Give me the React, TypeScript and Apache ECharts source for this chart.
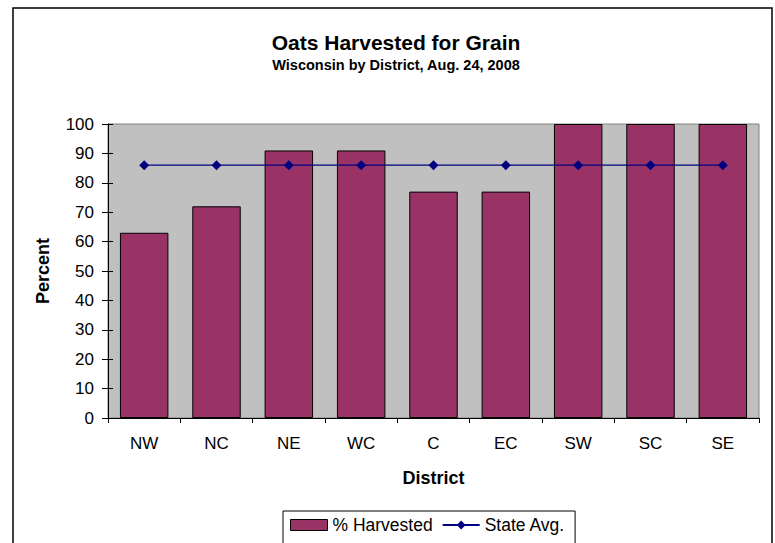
import React, { useEffect, useRef } from "react";
import * as echarts from "echarts";

const districts = ["NW", "NC", "NE", "WC", "C", "EC", "SW", "SC", "SE"];
const harvested = [63, 72, 91, 91, 77, 77, 100, 100, 100];
const stateAvg = [86, 86, 86, 86, 86, 86, 86, 86, 86];

const FONT = "Liberation Sans, Arial, sans-serif";

export default function App() {
  const ref = useRef<HTMLDivElement>(null);
  useEffect(() => {
    if (!ref.current) return;
    const chart = echarts.init(ref.current, null, { renderer: "svg" });
    chart.setOption({
      animation: false,
      backgroundColor: "#ffffff",
      textStyle: { fontFamily: FONT },
      title: {
        text: "Oats Harvested for Grain",
        subtext: "Wisconsin by District, Aug. 24, 2008",
        left: 391,
        textAlign: "center",
        top: 27,
        itemGap: 4,
        textStyle: { fontFamily: FONT, fontSize: 21, fontWeight: "bold", color: "#000" },
        subtextStyle: { fontFamily: FONT, fontSize: 14.5, fontWeight: "bold", color: "#000" },
      },
      graphic: [
        {
          type: "rect",
          shape: { x: 13, y: 8, width: 759, height: 600 },
          style: { fill: "none", stroke: "#000", lineWidth: 1.5 },
          silent: true,
          z: -1,
        },
      ],
      legend: {
        left: 283,
        top: 511,
        padding: [5, 10, 10, 7],
        itemGap: 9,
        itemWidth: 37,
        itemHeight: 11,
        borderColor: "#000",
        borderWidth: 1,
        backgroundColor: "#fff",
        textStyle: { fontFamily: FONT, fontSize: 17.5, color: "#000" },
        data: [
          { name: "% Harvested", icon: "rect", itemStyle: { borderColor: "#000", borderWidth: 1 } },
          { name: "State Avg." },
        ],
      },
      grid: {
        left: 108,
        top: 124,
        width: 651,
        height: 294,
        show: true,
        backgroundColor: "#C0C0C0",
        borderColor: "#808080",
        borderWidth: 1,
      },
      xAxis: {
        type: "category",
        data: districts,
        name: "District",
        nameLocation: "middle",
        nameGap: 51,
        nameTextStyle: { fontFamily: FONT, fontSize: 18, fontWeight: "bold", color: "#000" },
        axisLine: { lineStyle: { color: "#000", width: 1 } },
        axisTick: { show: true, alignWithLabel: false, length: 5, lineStyle: { color: "#000" } },
        axisLabel: { fontFamily: FONT, fontSize: 17, color: "#000", margin: 17 },
        splitLine: { show: false },
      },
      yAxis: [
        {
          type: "value",
          min: 0,
          max: 100,
          interval: 10,
          name: "Percent",
          nameLocation: "middle",
          nameGap: 56,
          nameTextStyle: { fontFamily: FONT, fontSize: 18, fontWeight: "bold", color: "#000" },
          axisLine: { show: true, lineStyle: { color: "#000", width: 1 } },
          axisTick: { show: true, inside: false, length: 6, lineStyle: { color: "#000" } },
          axisLabel: { fontFamily: FONT, fontSize: 17, color: "#000", margin: 14 },
          splitLine: { show: false },
        },
        {
          type: "value",
          position: "left",
          min: 0,
          max: 100,
          interval: 10,
          axisLine: { show: false },
          axisTick: { show: true, inside: true, length: 5, lineStyle: { color: "#000" } },
          axisLabel: { show: false },
          splitLine: { show: false },
        },
      ],
      series: [
        {
          name: "% Harvested",
          type: "bar",
          data: harvested,
          barCategoryGap: "33%",
          itemStyle: { color: "#993366", borderColor: "#000", borderWidth: 1 },
        },
        {
          name: "State Avg.",
          type: "line",
          data: stateAvg,
          symbol: "diamond",
          symbolSize: 10,
          lineStyle: { color: "#000080", width: 1.2 },
          itemStyle: { color: "#000080" },
        },
      ],
    });
    return () => chart.dispose();
  }, []);
  return (
    <div
      ref={ref}
      style={{ position: "fixed", left: 0, top: 0, width: 775, height: 543 }}
    />
  );
}
